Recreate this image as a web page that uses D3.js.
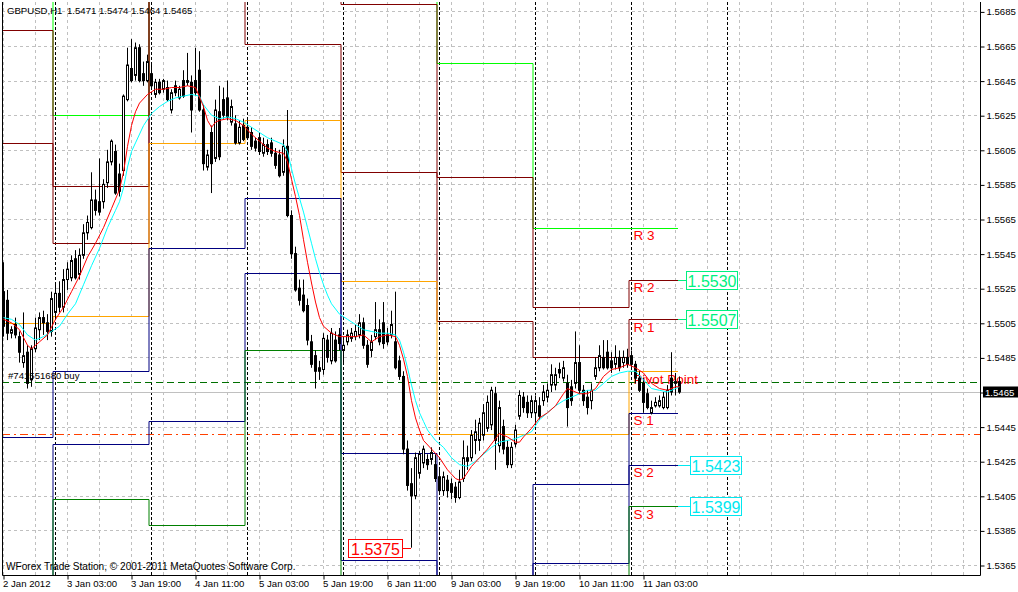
<!DOCTYPE html>
<html><head><meta charset="utf-8">
<script src="https://cdn.jsdelivr.net/npm/d3@7"></script>
<style>
body{margin:0;background:#fff;}
svg{display:block;}
text{font-family:"Liberation Sans",Arial,sans-serif;}
</style>
</head><body>
<svg id="c" width="1018" height="592"></svg>
<script>
// ---------------- DATA ----------------
const symbolTitle = "GBPUSD,H1";
const lastQuote = "1.5471 1.5474 1.5464 1.5465";
const copyright = "WForex Trade Station, \u00a9 2001-2011 MetaQuotes Software Corp.";
const orderLabel = "#741551680 buy";

const priceTicks = [1.5685,1.5665,1.5645,1.5625,1.5605,1.5585,1.5565,1.5545,1.5525,1.5505,1.5485,1.5465,1.5445,1.5425,1.5405,1.5385,1.5365];
const timeTickBars = [0,16,32,48,64,80,96,112,128,144,160];
const timeTickLabels = ["2 Jan 2012","3 Jan 03:00","3 Jan 19:00","4 Jan 11:00","5 Jan 03:00","5 Jan 19:00","6 Jan 11:00","9 Jan 03:00","9 Jan 19:00","10 Jan 11:00","11 Jan 03:00"];
const daySeparatorBars = [13,37,61,85,109,133,157,181];

const open = [1.5523,1.5518,1.5499,1.5504,1.5497,1.5482,1.5488,1.5472,1.5490,1.5501,1.5508,1.5505,1.5500,
1.5511,1.5522,1.5514,1.5530,1.5531,1.5542,1.5533,1.5544,1.5557,1.5560,1.5576,1.5575,1.5575,1.5586,1.5598,1.5604,1.5591,1.5593,1.5634,1.5652,1.5648,1.5664,1.5649,1.5645,
1.5649,1.5637,1.5644,1.5640,1.5641,1.5628,1.5642,1.5635,1.5645,1.5645,1.5644,1.5645,1.5651,1.5628,1.5595,1.5615,1.5600,1.5627,1.5634,1.5635,1.5621,1.5620,1.5609,1.5619,
1.5618,1.5615,1.5610,1.5612,1.5603,1.5608,1.5609,1.5603,1.5602,1.5592,1.5607,1.5567,1.5545,1.5525,1.5521,1.5515,1.5494,1.5486,1.5479,1.5478,1.5495,1.5483,1.5495,1.5498,
1.5489,1.5494,1.5496,1.5497,1.5498,1.5505,1.5492,1.5489,1.5497,1.5501,1.5505,1.5498,1.5498,1.5494,1.5483,1.5474,1.5432,1.5412,1.5405,1.5418,1.5424,1.5426,1.5426,1.5423,
1.5416,1.5408,1.5414,1.5412,1.5410,1.5404,1.5415,1.5427,1.5427,1.5437,1.5437,1.5440,1.5444,1.5446,1.5464,1.5434,1.5445,1.5433,1.5423,1.5435,1.5451,1.5462,1.5459,1.5453,
1.5453,1.5457,1.5460,1.5462,1.5469,1.5469,1.5478,1.5473,1.5470,1.5468,1.5470,1.5482,1.5466,1.5462,1.5460,1.5474,1.5479,1.5485,1.5488,1.5483,1.5481,1.5485,1.5482,1.5485,
1.5486,1.5481,1.5473,1.5470,1.5464,1.5453,1.5457,1.5457,1.5456,1.5456,1.5473,1.5470,1.5471];
const high = [1.5540,1.5524,1.5503,1.5508,1.5500,1.5511,1.5492,1.5492,1.5508,1.5511,1.5512,1.5510,1.5523,
1.5527,1.5529,1.5536,1.5540,1.5544,1.5547,1.5548,1.5562,1.5567,1.5592,1.5582,1.5600,1.5588,1.5605,1.5611,1.5608,1.5597,1.5637,1.5664,1.5669,1.5667,1.5666,1.5656,1.5660,
1.5654,1.5646,1.5646,1.5646,1.5645,1.5640,1.5645,1.5642,1.5651,1.5661,1.5648,1.5664,1.5662,1.5631,1.5605,1.5619,1.5634,1.5642,1.5641,1.5645,1.5634,1.5625,1.5622,1.5623,
1.5622,1.5618,1.5612,1.5615,1.5612,1.5611,1.5612,1.5606,1.5605,1.5611,1.5628,1.5570,1.5549,1.5530,1.5530,1.5519,1.5498,1.5489,1.5483,1.5499,1.5498,1.5502,1.5500,1.5502,
1.5495,1.5501,1.5502,1.5504,1.5510,1.5508,1.5495,1.5498,1.5517,1.5507,1.5517,1.5502,1.5512,1.5523,1.5486,1.5477,1.5437,1.5421,1.5430,1.5431,1.5434,1.5429,1.5433,1.5429,
1.5420,1.5419,1.5417,1.5415,1.5413,1.5420,1.5437,1.5434,1.5443,1.5449,1.5450,1.5458,1.5463,1.5468,1.5468,1.5460,1.5449,1.5437,1.5436,1.5446,1.5466,1.5465,1.5463,1.5463,
1.5463,1.5462,1.5469,1.5470,1.5481,1.5479,1.5482,1.5483,1.5475,1.5472,1.5500,1.5492,1.5469,1.5466,1.5470,1.5485,1.5492,1.5495,1.5495,1.5488,1.5492,1.5489,1.5489,1.5490,
1.5489,1.5483,1.5477,1.5473,1.5467,1.5460,1.5462,1.5463,1.5465,1.5469,1.5488,1.5476,1.5474];
const low = [1.5497,1.5495,1.5496,1.5496,1.5482,1.5479,1.5467,1.5468,1.5488,1.5495,1.5498,1.5495,1.5497,
1.5508,1.5511,1.5511,1.5524,1.5529,1.5530,1.5530,1.5542,1.5553,1.5559,1.5567,1.5567,1.5571,1.5583,1.5596,1.5579,1.5578,1.5590,1.5633,1.5644,1.5645,1.5644,1.5642,1.5644,
1.5641,1.5635,1.5637,1.5638,1.5633,1.5626,1.5636,1.5634,1.5635,1.5642,1.5615,1.5636,1.5627,1.5593,1.5593,1.5580,1.5598,1.5599,1.5623,1.5622,1.5619,1.5608,1.5608,1.5610,
1.5611,1.5605,1.5604,1.5602,1.5601,1.5602,1.5601,1.5594,1.5589,1.5590,1.5566,1.5542,1.5523,1.5515,1.5511,1.5492,1.5479,1.5467,1.5472,1.5475,1.5482,1.5481,1.5482,1.5489,
1.5482,1.5492,1.5494,1.5495,1.5496,1.5490,1.5479,1.5485,1.5495,1.5492,1.5490,1.5492,1.5496,1.5478,1.5472,1.5429,1.5408,1.5375,1.5403,1.5415,1.5421,1.5420,1.5423,1.5413,
1.5407,1.5405,1.5404,1.5403,1.5401,1.5403,1.5413,1.5420,1.5425,1.5429,1.5431,1.5437,1.5442,1.5443,1.5420,1.5430,1.5429,1.5421,1.5421,1.5433,1.5449,1.5453,1.5450,1.5450,
1.5446,1.5449,1.5457,1.5459,1.5465,1.5466,1.5473,1.5471,1.5445,1.5457,1.5467,1.5464,1.5457,1.5452,1.5455,1.5472,1.5477,1.5478,1.5478,1.5476,1.5478,1.5477,1.5479,1.5479,
1.5479,1.5470,1.5465,1.5453,1.5455,1.5452,1.5456,1.5456,1.5455,1.5455,1.5463,1.5463,1.5464];
const close = [1.5503,1.5499,1.5501,1.5498,1.5488,1.5486,1.5470,1.5490,1.5502,1.5508,1.5505,1.5500,1.5519,
1.5522,1.5514,1.5530,1.5536,1.5541,1.5531,1.5544,1.5557,1.5563,1.5576,1.5570,1.5569,1.5585,1.5598,1.5610,1.5580,1.5581,1.5636,1.5654,1.5645,1.5664,1.5645,1.5645,1.5656,
1.5642,1.5644,1.5638,1.5645,1.5634,1.5638,1.5638,1.5640,1.5636,1.5644,1.5628,1.5638,1.5628,1.5597,1.5602,1.5597,1.5628,1.5601,1.5625,1.5624,1.5630,1.5609,1.5618,1.5611,
1.5612,1.5607,1.5606,1.5604,1.5608,1.5604,1.5603,1.5596,1.5590,1.5607,1.5567,1.5545,1.5524,1.5518,1.5512,1.5495,1.5481,1.5477,1.5477,1.5496,1.5485,1.5499,1.5483,1.5493,
1.5492,1.5498,1.5499,1.5500,1.5505,1.5492,1.5481,1.5494,1.5501,1.5494,1.5493,1.5494,1.5504,1.5479,1.5474,1.5432,1.5411,1.5405,1.5427,1.5429,1.5432,1.5423,1.5430,1.5415,
1.5408,1.5416,1.5408,1.5407,1.5404,1.5413,1.5427,1.5425,1.5440,1.5442,1.5447,1.5453,1.5459,1.5466,1.5437,1.5456,1.5432,1.5423,1.5433,1.5443,1.5463,1.5456,1.5453,1.5460,
1.5460,1.5451,1.5465,1.5466,1.5475,1.5475,1.5476,1.5479,1.5456,1.5460,1.5482,1.5466,1.5460,1.5456,1.5466,1.5479,1.5486,1.5479,1.5479,1.5479,1.5485,1.5479,1.5485,1.5481,
1.5481,1.5473,1.5466,1.5459,1.5456,1.5456,1.5459,1.5460,1.5462,1.5466,1.5465,1.5471,1.5465];

// moving averages (bar index, price)
const maFastBars = [0,2,4,6,7,9,11,13,15,17,19,21,23,25,27,29,30,31,32,33,34,36,38,40,42,44,46,48,50,51,52,53,54,56,58,60,62,64,66,68,70,71,72,73,74,75,76,77,78,79,80,82,84,86,88,90,92,94,96,98,99,100,101,102,103,104,105,107,109,111,113,114,115,117,119,121,123,124,126,128,129,130,132,134,136,138,140,141,142,144,146,148,150,152,154,156,158,160,162,164,166,168,169];
const maFast = [1.5507,1.5505,1.5501,1.5492,1.5490,1.5494,1.5498,1.5507,1.5514,1.5523,1.5532,1.5543,1.5551,1.5560,1.5571,1.5582,1.5592,1.5607,1.5619,1.5627,1.5632,1.5637,1.5640,1.5640,1.5641,1.5641,1.5642,1.5641,1.5630,1.5622,1.5618,1.5621,1.5622,1.5623,1.5622,1.5619,1.5614,1.5610,1.5606,1.5604,1.5603,1.5598,1.5588,1.5578,1.5567,1.5553,1.5540,1.5528,1.5517,1.5508,1.5503,1.5499,1.5497,1.5497,1.5497,1.5498,1.5494,1.5497,1.5498,1.5497,1.5492,1.5484,1.5474,1.5460,1.5450,1.5443,1.5437,1.5432,1.5427,1.5420,1.5415,1.5414,1.5415,1.5422,1.5427,1.5432,1.5438,1.5441,1.5439,1.5436,1.5436,1.5439,1.5444,1.5450,1.5453,1.5457,1.5464,1.5467,1.5466,1.5464,1.5464,1.5467,1.5474,1.5478,1.5479,1.5481,1.5479,1.5476,1.5470,1.5467,1.5466,1.5468,1.5468];
const maSlowBars = [0,2,4,6,8,10,12,14,16,18,20,22,24,26,28,29,30,31,32,33,35,37,39,41,43,45,47,49,50,52,54,56,58,60,62,64,66,68,70,71,72,73,74,75,76,77,78,79,80,81,82,84,86,88,90,92,94,96,98,99,100,101,102,103,104,105,106,108,110,112,114,116,118,120,122,124,126,128,130,132,134,136,138,140,142,144,146,148,150,152,154,156,158,160,162,164,166,168,169];
const maSlow = [1.5508,1.5507,1.5504,1.5498,1.5495,1.5497,1.5500,1.5503,1.5510,1.5516,1.5527,1.5538,1.5548,1.5560,1.5570,1.5575,1.5583,1.5595,1.5604,1.5609,1.5619,1.5626,1.5630,1.5633,1.5635,1.5636,1.5637,1.5636,1.5631,1.5625,1.5623,1.5624,1.5623,1.5621,1.5618,1.5615,1.5612,1.5610,1.5608,1.5604,1.5594,1.5585,1.5577,1.5569,1.5560,1.5551,1.5542,1.5534,1.5527,1.5521,1.5516,1.5510,1.5507,1.5504,1.5501,1.5500,1.5499,1.5499,1.5498,1.5495,1.5488,1.5479,1.5469,1.5460,1.5453,1.5448,1.5443,1.5437,1.5433,1.5427,1.5423,1.5422,1.5425,1.5429,1.5433,1.5436,1.5437,1.5438,1.5440,1.5442,1.5449,1.5453,1.5457,1.5460,1.5462,1.5464,1.5466,1.5466,1.5470,1.5474,1.5476,1.5477,1.5477,1.5472,1.5467,1.5466,1.5465,1.5467,1.5468];

// daily pivot levels: 2,3,4,5,6,9,10,11 Jan
const pivotDayStartBars = [-11,13,37,61,85,109,133,157];
const pivotEndBar = 168.75;
const levelR3 = [1.5778,1.5625,1.5831,1.5754,1.5753,1.5655,1.5560,1.5560];
const levelR2 = [1.5674,1.5584,1.5770,1.5710,1.5689,1.5589,1.5514,1.5530];
const levelR1 = [1.5609,1.5551,1.5709,1.5666,1.5592,1.5506,1.5485,1.5507];
const levelPP = [1.5505,1.5509,1.5609,1.5622,1.5529,1.5441,1.5441,1.5477];
const levelS1 = [1.5439,1.5477,1.5548,1.5577,1.5430,1.5357,1.5412,1.5453];
const levelS2 = [1.5336,1.5435,1.5448,1.5534,1.5368,1.5292,1.5366,1.5423];
const levelS3 = [1.5270,1.5403,1.5388,1.5489,1.5273,1.5208,1.5337,1.5399];
const levelNames = ["R 3","R 2","R 1","Pivot Point","S 1","S 2","S 3"];
const levelColors = ["#00ff00","#800000","#800000","#ffa500","#000080","#000080","#008000"];

const priceBoxLevels = [1.5530,1.5507,1.5423,1.5399];
const priceBoxTexts = ["1.5530","1.5507","1.5423","1.5399"];
const priceBoxColors = ["#00f080","#00f080","#00e8f0","#00e8f0"];
const lowMarkBar = 102, lowMarkPrice = 1.5375, lowMarkText = "1.5375";

const bidPrice = 1.5465, orderPrice = 1.5471, stopPrice = 1.5441;

// ---------------- DRAW ----------------
const svg = d3.select("#c");
const L = 2, R = 980, T = 2, B = 575;
const FS = "9.3px";
const x = d3.scaleLinear().domain([0,1]).range([3,7]);
const y = d3.scaleLinear().domain([1.5365,1.5685]).range([565,11.4]);
const px = v => Math.round(v) + 0.5;

svg.append("rect").attr("width",1018).attr("height",592).attr("fill","#fff");
svg.append("clipPath").attr("id","plot").append("rect").attr("x",L).attr("y",T).attr("width",R-L).attr("height",B-T);
const g = svg.append("g").attr("clip-path","url(#plot)");

// grid
const vgrid = d3.range(0, 245, 8);
g.selectAll(".hg").data(priceTicks).join("line")
  .attr("x1",L).attr("x2",R).attr("y1",d=>px(y(d))).attr("y2",d=>px(y(d)))
  .attr("stroke","#c0c0c0").attr("stroke-dasharray","3,3");
g.selectAll(".vg").data(vgrid).join("line")
  .attr("x1",d=>px(x(d))).attr("x2",d=>px(x(d))).attr("y1",T).attr("y2",B)
  .attr("stroke","#c0c0c0").attr("stroke-dasharray","3,3");

// texts behind lines
svg.append("text").attr("x",7).attr("y",14).attr("font-size","9.6px").text(symbolTitle);
svg.append("text").attr("x",67).attr("y",14).attr("font-size","9.6px").text(lastQuote);
svg.append("text").attr("x",6).attr("y",569.5).attr("font-size","10.1px").text(copyright);
svg.append("text").attr("x",8).attr("y",y(orderPrice)-2.5).attr("font-size","9.6px").text(orderLabel);

// day separators
g.selectAll(".sep").data(daySeparatorBars).join("line")
  .attr("x1",d=>px(x(d))).attr("x2",d=>px(x(d))).attr("y1",T).attr("y2",B)
  .attr("stroke","#000").attr("stroke-dasharray","3,2");

// order / price lines
g.append("line").attr("x1",L).attr("x2",R).attr("y1",px(y(bidPrice))).attr("y2",px(y(bidPrice))).attr("stroke","#c0c0c0");
g.append("line").attr("x1",L).attr("x2",R).attr("y1",px(y(orderPrice))).attr("y2",px(y(orderPrice))).attr("stroke","#007000").attr("stroke-dasharray","7,4");
g.append("line").attr("x1",L).attr("x2",R).attr("y1",px(y(stopPrice))).attr("y2",px(y(stopPrice))).attr("stroke","#ff4000").attr("stroke-dasharray","8,4,2,4");

// pivot lines
const levels = [levelR3,levelR2,levelR1,levelPP,levelS1,levelS2,levelS3];
const stepLine = d3.line().x(d=>x(d[0])).y(d=>px(y(d[1]))).curve(d3.curveStepAfter);
levels.forEach((lv,k)=>{
  const pts = pivotDayStartBars.map((b,i)=>[b-0.5, lv[i]]);
  pts.push([pivotEndBar, lv[lv.length-1]]);
  g.append("path").attr("d",stepLine(pts)).attr("fill","none").attr("stroke",levelColors[k]).attr("stroke-width",1);
});
// level names
const lastStart = pivotDayStartBars[pivotDayStartBars.length-1];
levels.forEach((lv,k)=>{
  g.append("text").attr("x",x(lastStart)+2.5).attr("y",y(lv[lv.length-1])+12.5)
   .attr("font-size","13.5px").attr("fill","#ff0000").text(levelNames[k]);
});

// candles
const bars = d3.range(open.length);
g.selectAll(".wick").data(bars).join("line")
  .attr("x1",i=>x(i)+0.5).attr("x2",i=>x(i)+0.5)
  .attr("y1",i=>y(high[i])).attr("y2",i=>y(low[i]))
  .attr("stroke","#000").attr("stroke-width",1);
g.selectAll(".body").data(bars).join("rect")
  .attr("x",i=>x(i)-0.5).attr("width",2)
  .attr("y",i=>y(Math.max(open[i],close[i])))
  .attr("height",i=>Math.max(0.5, Math.abs(y(open[i])-y(close[i]))))
  .attr("fill",i=>close[i]>=open[i]?"#fff":"#000")
  .attr("stroke","#000").attr("stroke-width",1);

// moving averages
const maLine = d3.line().x(d=>x(d[0])+0.5).y(d=>y(d[1]));
g.append("path").attr("d",maLine(maSlowBars.map((b,i)=>[b,maSlow[i]]))).attr("fill","none").attr("stroke","#00ffff").attr("stroke-width",1);
g.append("path").attr("d",maLine(maFastBars.map((b,i)=>[b,maFast[i]]))).attr("fill","none").attr("stroke","#ff0000").attr("stroke-width",1);

// price boxes on the right of the pivot levels
priceBoxLevels.forEach((p,k)=>{
  const yc = px(y(p));
  const x0 = x(pivotEndBar);
  const bx = x0 + (k<2 ? 8 : 12);
  svg.append("line").attr("x1",x0).attr("x2",bx).attr("y1",yc).attr("y2",yc).attr("stroke",priceBoxColors[k]);
  svg.append("rect").attr("x",bx+0.5).attr("y",yc-9).attr("width",51).attr("height",18)
     .attr("fill","#fff").attr("stroke",priceBoxColors[k]).attr("stroke-width",1);
  svg.append("text").attr("x",bx+26).attr("y",yc+6).attr("text-anchor","middle")
     .attr("font-size","16px").attr("fill",priceBoxColors[k]).text(priceBoxTexts[k]);
});
// low marker
{
  const yc = px(y(lowMarkPrice)), xr = x(lowMarkBar);
  svg.append("line").attr("x1",xr-9).attr("x2",xr).attr("y1",yc).attr("y2",yc).attr("stroke","#ff0000");
  svg.append("rect").attr("x",xr-62.5).attr("y",yc-9).attr("width",54).attr("height",18)
     .attr("fill","#fff").attr("stroke","#ff0000");
  svg.append("text").attr("x",xr-35.5).attr("y",yc+6).attr("text-anchor","middle")
     .attr("font-size","16px").attr("fill","#ff0000").text(lowMarkText);
}

// frame
svg.append("path").attr("d",`M${L+0.5},${T}V${B+0.5}H${R+0.5}V${T}`).attr("fill","none").attr("stroke","#000");

// axes
const yAxis = d3.axisRight(y).tickValues(priceTicks).tickSize(4).tickPadding(2).tickFormat(d3.format(".4f"));
const ya = svg.append("g").attr("transform",`translate(${R+0.5},0.5)`).call(yAxis);
ya.select(".domain").remove();
ya.selectAll("text").attr("font-size","9.6px").attr("font-family","Liberation Sans, Arial, sans-serif").attr("fill","#000");
const xAxis = d3.axisBottom(x).tickValues(timeTickBars).tickSize(4).tickFormat((d,i)=>timeTickLabels[i]);
const xa = svg.append("g").attr("transform",`translate(0.5,${B+0.5})`).call(xAxis);
xa.select(".domain").remove();
xa.selectAll("text").attr("font-size","9.6px").attr("font-family","Liberation Sans, Arial, sans-serif")
  .attr("text-anchor","start").attr("dx","-1").attr("dy","0.5em").attr("fill","#000");

// current bid label
{
  const yc = y(bidPrice);
  svg.append("rect").attr("x",983).attr("y",yc-5.5).attr("width",35).attr("height",11).attr("fill","#000");
  svg.append("text").attr("x",985).attr("y",yc+4).attr("font-size","9.6px").attr("fill","#fff").text("1.5465");
}
</script>
</body></html>
